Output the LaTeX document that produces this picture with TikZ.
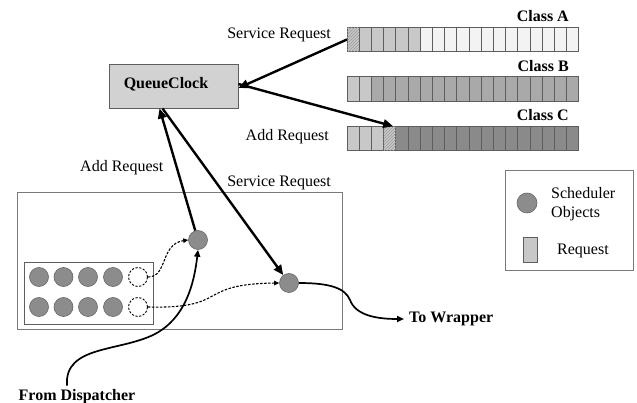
\documentclass[tikz,border=0pt]{standalone}
\usepackage{fontspec}
\setmainfont{Liberation Serif}
\usetikzlibrary{arrows.meta,patterns}
\definecolor{edgegray}{HTML}{5E5E5E}
\definecolor{boxgray}{HTML}{7A7A7A}
\definecolor{clockfill}{HTML}{D2D2D2}
\definecolor{paleA}{HTML}{F3F3F3}
\definecolor{lightcell}{HTML}{C8C8C8}
\definecolor{midcell}{HTML}{A9A9A9}
\definecolor{darkcell}{HTML}{8A8A8A}
\definecolor{objgray}{HTML}{8C8C8C}
\definecolor{objedge}{HTML}{666666}
\definecolor{hatchline}{HTML}{9A9A9A}
\tikzset{
  cell/.style={draw=edgegray, line width=0.8pt, minimum width=12.2pt, minimum height=24.5pt, inner sep=0pt, outer sep=0pt},
  hatched/.style={fill=lightcell, postaction={pattern=north east lines, pattern color=hatchline}},
  sobj/.style={circle, minimum size=19pt, inner sep=0pt, fill=objgray, draw=objedge, line width=0.6pt},
  slot/.style={circle, minimum size=19pt, inner sep=0pt, draw=black, line width=0.9pt, dash pattern=on 2.2pt off 1.6pt},
  lbl/.style={inner sep=0pt, font=\fontsize{16}{19}\selectfont},
  blbl/.style={inner sep=0pt, font=\fontsize{16}{19}\selectfont\bfseries},
  thickarrow/.style={line width=2.4pt, -{Triangle[length=10pt,width=8.5pt]}},
  flow/.style={line width=1.7pt, -{Triangle[length=7pt,width=6pt]}},
  dashflow/.style={line width=1.1pt, dash pattern=on 2.5pt off 1.5pt, -{Triangle[length=5pt,width=4.5pt]}},
}
\begin{document}
\begin{tikzpicture}[x=1pt,y=-1pt]
\useasboundingbox (0,0) rectangle (637,403);

% request queues, one per class
\foreach \i in {1,...,19}{
  \ifnum\i<7 \def\fc{lightcell}\else\def\fc{paleA}\fi
  \node[cell, fill=\fc] (A\i) at ({347+(\i-0.5)*12.2},39.5) {};
  \ifnum\i<3 \def\fc{lightcell}\else\def\fc{midcell}\fi
  \node[cell, fill=\fc] (B\i) at ({347+(\i-0.5)*12.2},89) {};
  \ifnum\i<5 \def\fc{lightcell}\else\def\fc{darkcell}\fi
  \node[cell, fill=\fc] (C\i) at ({347+(\i-0.5)*12.2},138.5) {};
}
\node[cell, hatched] at (A1) {};
\node[cell, hatched] at (C4) {};

\node[blbl, anchor=east] (classA) at (569,16) {Class A};
\node[blbl, anchor=east] (classB) at (569,66) {Class B};
\node[blbl, anchor=east] (classC) at (569,115) {Class C};
\node[lbl, anchor=east] (srvtop) at (331,35) {Service Request};
\node[lbl, anchor=east] (addtop) at (329,137) {Add Request};

% queue clock
\node[draw=edgegray, fill=clockfill, line width=0.9pt, minimum width=129pt, minimum height=44pt, inner sep=0pt] (qc) at (173.5,86) {};
\node[blbl] (qctext) at (166,84) {QueueClock};

% scheduler container
\node[draw=boxgray, line width=1pt, minimum width=325pt, minimum height=136pt, inner sep=0pt] (outer) at (179.5,261) {};
\node[draw=edgegray, line width=0.9pt, minimum width=129pt, minimum height=62pt, inner sep=0pt] (pool) at (88.5,293) {};
\foreach \j/\x in {1/39,2/63.5,3/88,4/113}{
  \node[sobj] (p1\j) at (\x,277) {};
  \node[sobj] (p2\j) at (\x,307) {};
}
\node[slot] (d1) at (138,277) {};
\node[slot] (d2) at (138,307) {};

\node[sobj] (s1) at (198,240) {};
\node[sobj] (s2) at (289,283) {};

\node[lbl, anchor=west] (addlow) at (80,168) {Add Request};
\node[lbl, anchor=east] (srvlow) at (331,183) {Service Request};

% requests between queues and clock
\draw[thickarrow] (A1.west) -- ([yshift=-2pt]qc.east);
\draw[thickarrow] ([yshift=2pt]qc.east) -- ([xshift=3.5pt]C4.north);
\draw[thickarrow] (s1) -- ([xshift=-14pt]qc.south);
\draw[thickarrow] ([xshift=-11pt]qc.south) -- (s2);

% object hand-over inside the scheduler
\draw[dashflow] (d1.east) .. controls (168,277) and (160,244) .. (s1.west);
\draw[dashflow] (d2.east) .. controls (230,309) and (195,284) .. (s2.west);

% external flows
\node[blbl] (fromd) at (77,397) {From Dispatcher};
\node[blbl, anchor=west] (towr) at (409,319) {To Wrapper};
\draw[flow] ([xshift=-10pt,yshift=4pt]fromd.north) .. controls (64,345) and (120,352) .. (155,334) .. controls (185,318) and (194,285) .. (s1.south);
\draw[flow] (s2.east) .. controls (330,283) and (345,288) .. (350,300) .. controls (356,316) and (378,319) .. ([xshift=-5pt]towr.west);

% legend
\node[draw=boxgray, line width=0.9pt, minimum width=128pt, minimum height=100pt, inner sep=0pt] (legend) at (569,220) {};
\node[sobj, minimum size=20pt] (legobj) at (527,203) {};
\node[lbl, anchor=west, align=left] (legobjtxt) at (551,204.5) {Scheduler\\Objects};
\node[draw=edgegray, fill=lightcell, line width=0.8pt, minimum width=14pt, minimum height=25pt, inner sep=0pt] (legreq) at (530,249.5) {};
\node[lbl, anchor=west] (legreqtxt) at (557,251) {Request};
\end{tikzpicture}
\end{document}
